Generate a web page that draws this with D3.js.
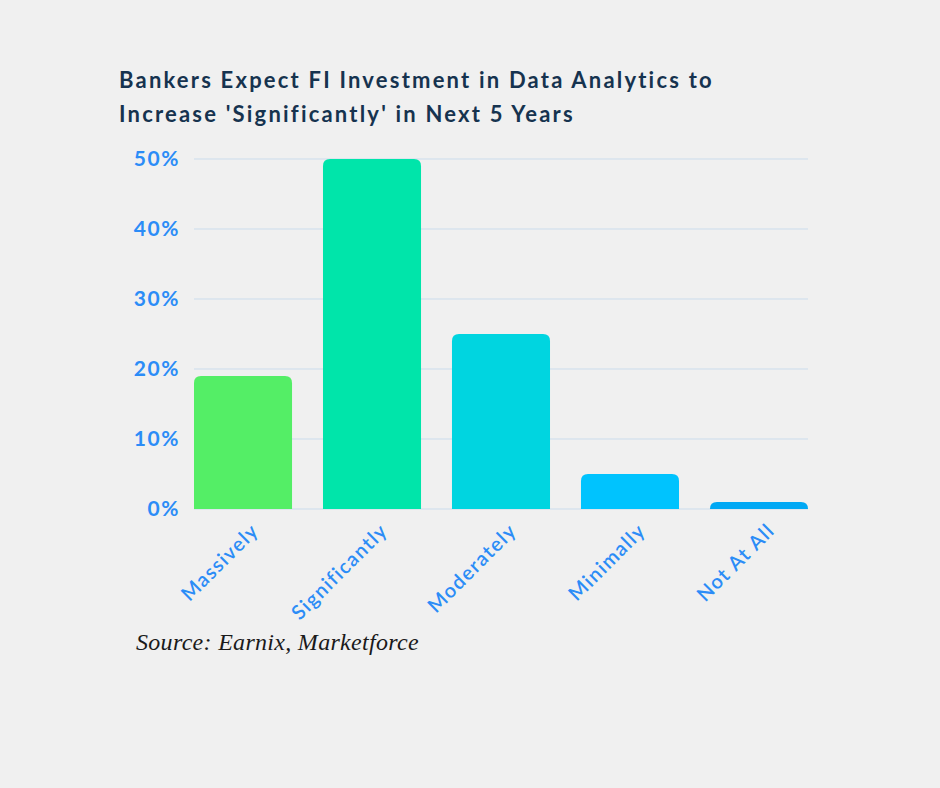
<!DOCTYPE html>
<html>
<head>
<meta charset="utf-8">
<script src="https://cdn.jsdelivr.net/npm/d3@7"></script>
<style>
  body { margin: 0; background: #f0f0f0; }
  svg { display: block; }
</style>
</head>
<body>
<script>
// data
const categories = ["Massively", "Significantly", "Moderately", "Minimally", "Not At All"]
const values = [19, 50, 25, 5, 1]
const barColors = ["#54ee66", "#00e5aa", "#00d5e0", "#00c3fe", "#00a8f4"]
const yTicks = [0, 10, 20, 30, 40, 50]
const titleLines = ["Bankers Expect FI Investment in Data Analytics to", "Increase 'Significantly' in Next 5 Years"]
const sourceText = "Source: Earnix, Marketforce"

const W = 940, H = 788
const blue = "#2b8cf7"
const font = "Lato, 'Open Sans', sans-serif"

let svg = d3.select("body").append("svg")
    .attr("width", W)
    .attr("height", H)
    .style("background-color", "#f0f0f0")

let x = d3.scaleBand()
    .domain(categories)
    .range([194, 808])
    .paddingInner(0.24)
    .paddingOuter(0)

let y = d3.scaleLinear()
    .domain([0, 50])
    .range([509, 159])

// title
svg.append("g").selectAll("text")
    .data(titleLines)
    .join("text")
    .attr("x", 119)
    .attr("y", (d, i) => 88 + i * 34)
    .style("font-family", font)
    .style("font-size", "22px")
    .style("font-weight", 700)
    .style("letter-spacing", "2.2px")
    .style("fill", "#16334f")
    .text(d => d)

// gridlines
svg.append("g").selectAll("line")
    .data(yTicks)
    .join("line")
    .attr("x1", 194)
    .attr("x2", 808)
    .attr("y1", d => y(d))
    .attr("y2", d => y(d))
    .style("stroke", "#cbdcec")
    .style("stroke-width", 1)

// y axis labels
let yAxis = svg.append("g")
    .attr("transform", "translate(180,0)")
    .call(d3.axisLeft(y).tickValues(yTicks).tickFormat(d => d + "%").tickSize(0).tickPadding(0))
yAxis.select(".domain").remove()
yAxis.selectAll("text")
    .style("font-family", font)
    .style("font-size", "21px")
    .style("font-weight", 700)
    .style("letter-spacing", "1.6px")
    .style("fill", blue)

// bars with rounded top corners
function topRounded(x0, y0, w, h, r) {
    r = Math.min(r, h, w / 2)
    return `M${x0},${y0 + h}V${y0 + r}Q${x0},${y0} ${x0 + r},${y0}H${x0 + w - r}Q${x0 + w},${y0} ${x0 + w},${y0 + r}V${y0 + h}Z`
}

svg.append("g").selectAll("path")
    .data(categories)
    .join("path")
    .attr("d", (d, i) => topRounded(x(d), y(values[i]), x.bandwidth(), y(0) - y(values[i]), 7))
    .style("fill", (d, i) => barColors[i])

// x axis labels
let xAxis = svg.append("g")
    .attr("transform", "translate(0,509)")
    .call(d3.axisBottom(x).tickSize(0).tickPadding(0))
xAxis.select(".domain").remove()
xAxis.selectAll("text")
    .attr("text-anchor", "end")
    .attr("transform", "translate(12,18) rotate(-45)")
    .attr("dy", "0.35em")
    .style("font-family", font)
    .style("font-size", "20px")
    .style("font-weight", 600)
    .style("letter-spacing", "1.4px")
    .style("fill", blue)

// source
svg.append("text")
    .attr("x", 136)
    .attr("y", 650)
    .style("font-family", "'Liberation Serif', serif")
    .style("font-style", "italic")
    .style("font-size", "24px")
    .style("letter-spacing", "0.3px")
    .style("fill", "#1a1a1a")
    .text(sourceText)
</script>
</body>
</html>
